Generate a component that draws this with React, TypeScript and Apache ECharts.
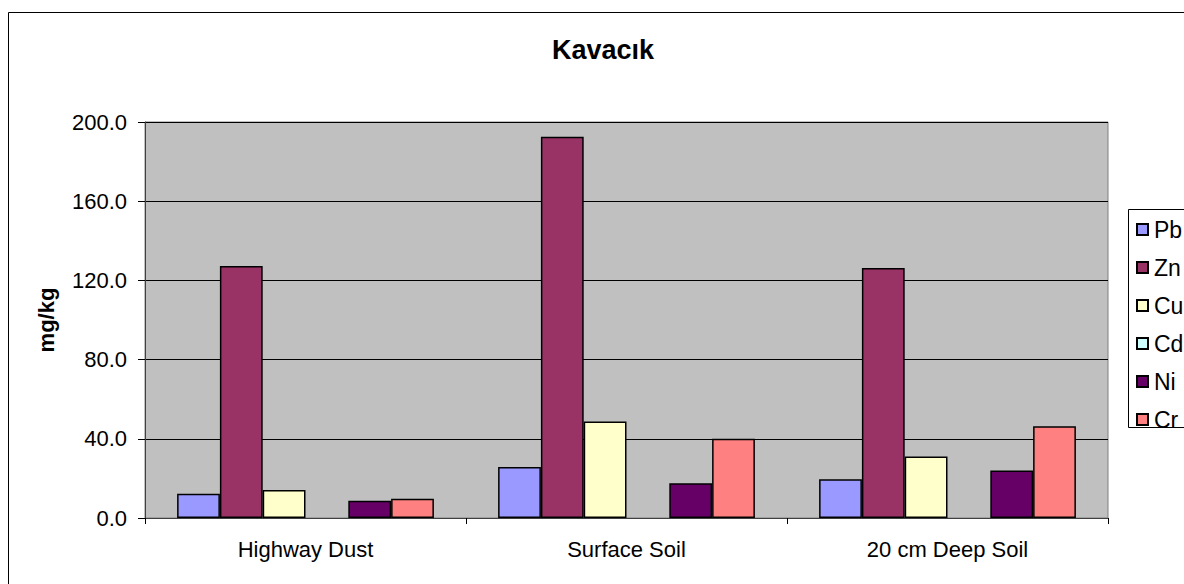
import React, { useEffect, useRef } from "react";
import * as echarts from "echarts";

const categories = ["Highway Dust", "Surface Soil", "20 cm Deep Soil"];
const seriesNames = ["Pb", "Zn", "Cu", "Cd", "Ni", "Cr"];
const seriesColors = ["#9999FF", "#993366", "#FFFFCC", "#CCFFFF", "#660066", "#FF8080"];
const pbValues = [12.2, 25.7, 19.6];
const znValues = [127.3, 192.6, 126.3];
const cuValues = [14.1, 48.8, 31.1];
const cdValues: (number | null)[] = [null, null, null];
const niValues = [8.7, 17.6, 24.0];
const crValues = [9.7, 40.0, 46.3];
const yTicks = [0, 40, 80, 120, 160, 200];
const chartTitle = "Kavacık";
const yAxisTitle = "mg/kg";

const FONT = "'Liberation Sans', Arial, Helvetica, sans-serif";

export default function App() {
  const ref = useRef<HTMLDivElement>(null);
  useEffect(() => {
    document.documentElement.style.overflow = "hidden";
    if (!ref.current) return;
    const chart = echarts.init(ref.current, null, { renderer: "svg" });
    const allValues = [pbValues, znValues, cuValues, cdValues, niValues, crValues];
    chart.setOption({
      animation: false,
      backgroundColor: "#ffffff",
      title: {
        text: chartTitle,
        left: 552,
        top: 36,
        padding: 0,
        textStyle: { fontFamily: FONT, fontSize: 27, fontWeight: "bold", color: "#000" },
      },
      graphic: [
        {
          type: "rect",
          silent: true,
          z: -10,
          shape: { x: 8.5, y: 12.5, width: 1400, height: 1000 },
          style: { fill: "none", stroke: "#000", lineWidth: 1 },
        },
        {
          type: "rect",
          silent: true,
          z: -5,
          shape: { x: 1128.5, y: 209.5, width: 200, height: 218 },
          style: { fill: "#fff", stroke: "#000", lineWidth: 1 },
        },
      ],
      legend: {
        orient: "vertical",
        left: 1136,
        top: 218,
        padding: 0,
        itemWidth: 11,
        itemHeight: 11,
        itemGap: 15,
        icon: "rect",
        textStyle: { fontFamily: FONT, fontSize: 23, color: "#000", padding: [0, 0, 0, 1] },
        data: seriesNames,
      },
      grid: {
        left: 145,
        right: 76,
        top: 122,
        bottom: 66,
        show: true,
        backgroundColor: "#C0C0C0",
        borderColor: "#808080",
        borderWidth: 1,
      },
      xAxis: {
        type: "category",
        data: categories,
        axisLine: { show: true, lineStyle: { color: "#404040", width: 1 } },
        axisTick: { show: true, length: 6, lineStyle: { color: "#000" } },
        axisLabel: { fontFamily: FONT, fontSize: 22, color: "#000", margin: 20 },
      },
      yAxis: {
        type: "value",
        min: yTicks[0],
        max: yTicks[yTicks.length - 1],
        interval: yTicks[1] - yTicks[0],
        name: yAxisTitle,
        nameLocation: "middle",
        nameRotate: 90,
        nameGap: 88,
        nameTextStyle: { fontFamily: FONT, fontSize: 22, fontWeight: "bold", color: "#000" },
        axisLine: { show: true, lineStyle: { color: "#404040", width: 1 } },
        axisTick: { show: true, length: 7, lineStyle: { color: "#000" } },
        axisLabel: {
          fontFamily: FONT,
          fontSize: 22,
          color: "#000",
          margin: 18,
          formatter: (v: number) => v.toFixed(1),
        },
        splitLine: { show: true, lineStyle: { color: "#000", width: 1 } },
      },
      series: seriesNames.map((name, i) => ({
        name,
        type: "bar",
        data: allValues[i],
        barGap: "0%",
        barCategoryGap: "20%",
        itemStyle: { color: seriesColors[i], borderColor: "#000", borderWidth: 1.5 },
      })),
    });
    return () => chart.dispose();
  }, []);
  return (
    <div
      ref={ref}
      style={{ position: "fixed", left: 0, top: 0, width: 1184, height: 584 }}
    />
  );
}
